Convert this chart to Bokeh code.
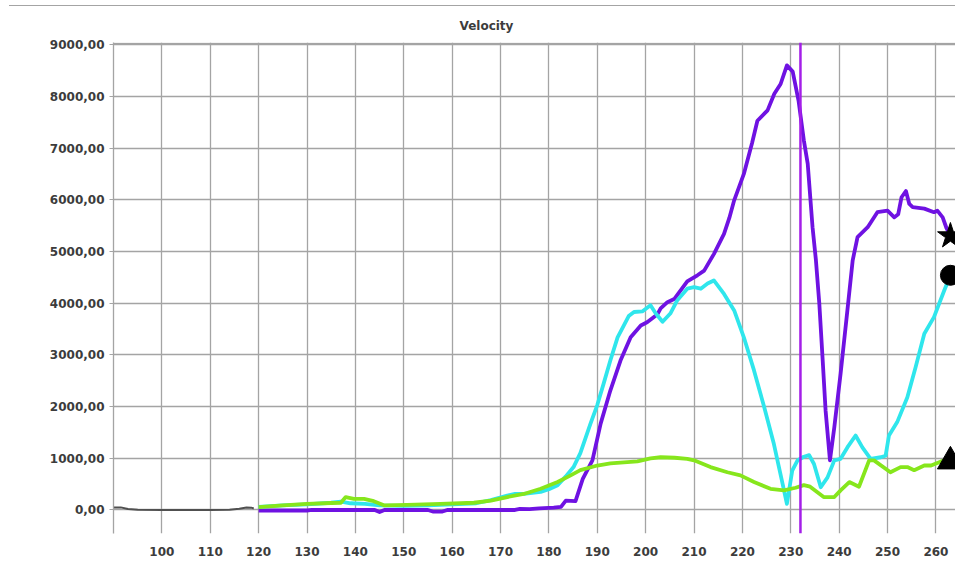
from bokeh.plotting import figure
from bokeh.models import Span, FixedTicker, Range1d, Div
from bokeh.layouts import column
from bokeh.embed import file_html
from bokeh.resources import INLINE

# ---- data -------------------------------------------------------------
x_ticks = [100, 110, 120, 130, 140, 150, 160, 170, 180, 190, 200,
           210, 220, 230, 240, 250, 260]
y_ticks = [0, 1000, 2000, 3000, 4000, 5000, 6000, 7000, 8000, 9000]
y_labels = ["0,00", "1000,00", "2000,00", "3000,00", "4000,00",
            "5000,00", "6000,00", "7000,00", "8000,00", "9000,00"]

cursor_x = 232

ref_x = [90, 91.5, 93, 95, 100, 110, 114, 116, 117.5, 118.5, 119]
ref_v = [50, 50, 20, 5, 0, 0, 5, 25, 50, 45, 30]

purple_x = [120, 125, 130, 131, 140, 144, 145, 146, 155, 156, 158, 159,
            173, 174, 176, 178, 181, 182.5, 183.5, 185.5, 187, 189, 190.7,
            192.7, 194.8, 196.9, 199, 200.3, 202.4, 203.1, 204.5, 205.9,
            208.6, 210.7, 212.1, 214.1, 216.2, 217.3, 218.3, 220.3, 222,
            223.1, 225.2, 226.6, 227.9, 229.2, 230.4, 231.6, 232.7, 233.5,
            234.5, 235.2, 235.9, 236.6, 237.2, 238.1, 239, 240.3, 241.7,
            242.8, 243.8, 245.9, 247.9, 250, 251.4, 252.2, 252.9, 253.8,
            254.5, 255.2, 257.6, 259.6, 260.3, 261.4, 262.2, 263]
purple_v = [-10, -10, -10, 0, 0, 0, -40, 0, 0, -30, -30, 0,
            0, 20, 15, 30, 45, 60, 180, 170, 600, 960, 1670,
            2310, 2890, 3340, 3570, 3630, 3780, 3900, 4020, 4080,
            4420, 4540, 4630, 4950, 5340, 5650, 5990, 6500, 7100,
            7530, 7730, 8050, 8240, 8600, 8480, 7920, 7150, 6700,
            5470, 4830, 3990, 2890, 1920, 960, 1600, 2640, 3860,
            4830, 5280, 5470, 5760, 5790, 5660, 5720, 6050, 6170,
            5920, 5860, 5830, 5760, 5790, 5660, 5450, 5300]

cyan_x = [120, 125, 130, 135, 137, 139, 142, 145, 150, 155, 160, 165, 168,
          171.4, 173, 174.8, 178.3, 180, 181.8, 183.5, 185.1, 186.5, 188.6,
          190, 191.3, 192.7, 194.2, 195.5, 196.5, 197.6, 199.3, 201, 202.1,
          203.5, 205.1, 206.5, 208.6, 210, 211.4, 212.8, 214.1, 216.2, 218.3,
          220.3, 222.4, 224.5, 226.5, 228.3, 229.2, 230.3, 231.4, 232.7,
          233.8, 234.8, 236.2, 237.6, 239, 240.3, 241.7, 243.4, 244.8, 246.5,
          248.6, 249.6, 250.3, 252, 254.1, 255.8, 257.6, 259.6, 261.7, 263]
cyan_v = [60, 90, 110, 140, 160, 130, 120, 90, 80, 90, 110, 130, 190,
          280, 310, 310, 350, 400, 480, 650, 830, 1100, 1670,
          2030, 2440, 2890, 3340, 3570, 3750, 3830, 3840, 3960, 3800,
          3640, 3800, 4050, 4280, 4310, 4280, 4380, 4440, 4180, 3860,
          3340, 2700, 1990, 1280, 510, 120, 760, 960, 1030,
          1060, 890, 440, 630, 960, 990, 1210, 1440, 1210, 990,
          1020, 1050, 1440, 1700, 2180, 2760, 3410, 3730, 4240, 4540]

green_x = [120, 125, 130, 135, 137, 138, 139.7, 141.8, 143.8, 145.9, 150.7,
           157.6, 164.5, 168, 171.4, 174.8, 178.3, 181.8, 184.5, 186.5, 190,
           192.7, 198.3, 201, 203.1, 206, 208.6, 210, 213.4, 216.9, 219.6,
           222.4, 225.8, 228.6, 231, 232.7, 234, 236.8, 239, 240.3, 242.1,
           244.1, 246.2, 247.2, 250.6, 252.7, 254.1, 255.5, 257.6, 259,
           261.7, 263]
green_v = [55, 90, 120, 135, 140, 250, 215, 215, 170, 90, 100,
           120, 140, 180, 250, 310, 410, 540, 670, 770, 860,
           900, 940, 1000, 1020, 1010, 990, 960, 830, 730, 670,
           540, 410, 380, 430, 480, 450, 250, 250, 380, 540,
           450, 960, 960, 730, 830, 830, 770, 860, 860,
           960, 940]

# ---- figure -----------------------------------------------------------
GRID = "#a4a4a4"
TEXT = "#3c3c3c"
FONT = "DejaVu Sans"

p = figure(width=955, height=575,
           x_range=Range1d(90, 264.05), y_range=Range1d(-455, 9043),
           output_backend="svg", toolbar_location=None,
           min_border_left=113, min_border_right=0,
           min_border_top=36, min_border_bottom=48)
p.outline_line_color = None
p.background_fill_color = "white"
p.border_fill_color = "white"

p.title.text = "Velocity"
p.title.align = "left"
p.title.offset = 346
p.title.standoff = 20
p.title.text_font = FONT
p.title.text_font_style = "bold"
p.title.text_font_size = "12px"
p.title.text_color = TEXT

p.xaxis.ticker = FixedTicker(ticks=x_ticks)
p.xaxis.axis_line_color = None
p.xaxis.major_tick_line_color = None
p.xaxis.minor_tick_line_color = None
p.xaxis.major_label_standoff = 7

p.yaxis.ticker = FixedTicker(ticks=y_ticks)
p.yaxis.major_label_overrides = {t: lab for t, lab in zip(y_ticks, y_labels)}
p.yaxis.axis_line_color = GRID
p.yaxis.axis_line_width = 1.3
p.yaxis.major_tick_line_color = GRID
p.yaxis.major_tick_out = 4
p.yaxis.major_tick_in = 0
p.yaxis.minor_tick_line_color = None
p.yaxis.major_label_standoff = 5

for ax in (p.xaxis, p.yaxis):
    ax.major_label_text_font = FONT
    ax.major_label_text_font_style = "bold"
    ax.major_label_text_font_size = "12px"
    ax.major_label_text_color = TEXT

p.xgrid.ticker = FixedTicker(ticks=x_ticks)
p.ygrid.ticker = FixedTicker(ticks=y_ticks)
for g in (p.xgrid, p.ygrid):
    g.grid_line_color = GRID
    g.grid_line_width = 1.3

# upper edge of the plotting area
p.add_layout(Span(location=9028, dimension="width",
                  line_color=GRID, line_width=1.3))

# series
p.line(ref_x, ref_v, line_color="#505050", line_width=2)
p.line(purple_x, purple_v, line_color="#6f12e2", line_width=3.8,
       line_join="round")
p.line(cyan_x, cyan_v, line_color="#2fe6ec", line_width=3.8,
       line_join="round")
p.line(green_x, green_v, line_color="#86e61c", line_width=3.8,
       line_join="round")

# end-of-series markers
p.scatter([purple_x[-1]], [purple_v[-1]], marker="star", size=27,
          color="black")
p.scatter([cyan_x[-1]], [cyan_v[-1]], marker="circle", size=20,
          color="black")
p.scatter([green_x[-1]], [green_v[-1]], marker="triangle", size=26,
          color="black")

# cursor line
p.add_layout(Span(location=cursor_x, dimension="height",
                  line_color="#a41ee8", line_width=2.5))

top_rule = Div(text="", width=946, height=1, margin=(5, 0, 0, 9),
               styles={"background-color": GRID})

layout = column(top_rule, p, spacing=0)

open("out.html", "w").write(file_html(layout, INLINE))
